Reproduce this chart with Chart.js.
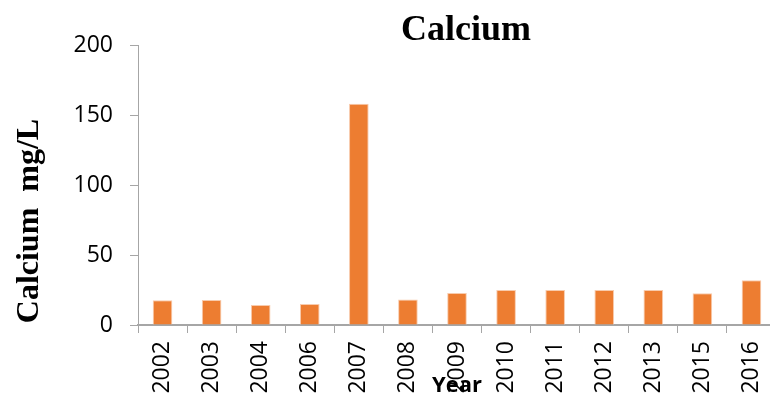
<!DOCTYPE html>
<html>
<head>
<meta charset="utf-8">
<script src="https://cdn.jsdelivr.net/npm/chart.js@4/dist/chart.umd.min.js"></script>
<style>
  html, body { margin: 0; padding: 0; background: #fff; overflow: hidden; }
  /* the original axis runs a few pixels past the right edge of the picture */
  #wrap { width: 776px; height: 400px; }
</style>
</head>
<body>
<div id="wrap"><canvas id="myChart"></canvas></div>
<script>
const years = ['2002', '2003', '2004', '2006', '2007', '2008', '2009', '2010', '2011', '2012', '2013', '2015', '2016'];
const calcium = [17.6, 17.9, 14.3, 15, 158, 18.3, 22.9, 25, 25, 25, 25, 22.6, 32];
const yTicks = [0, 50, 100, 150, 200];

const chartTitle = 'Calcium';
const yTitle = 'Calcium  mg/L';
const xTitle = 'Year';

// titles sit where the original put them, not where Chart.js would
const titlesPlugin = {
	id: 'titles',
	afterDraw(chart) {
		const ctx = chart.ctx;
		ctx.save();
		ctx.fillStyle = '#000';
		ctx.textBaseline = 'alphabetic';
		ctx.textAlign = 'center';
		ctx.font = "bold 36px 'Liberation Serif', 'Times New Roman', serif";
		ctx.fillText(chartTitle, 466, 40);

		ctx.font = "bold 22px 'Open Sans', sans-serif";
		ctx.fillText(xTitle, 457, 392);

		ctx.translate(38, 221);
		ctx.rotate(-Math.PI / 2);
		ctx.font = "bold 32px 'Liberation Serif', 'Times New Roman', serif";
		ctx.fillText(yTitle, 0, 0);
		ctx.restore();
	}
};

const axisColor = '#A6A6A6';

new Chart(document.getElementById('myChart').getContext('2d'), {
	type: 'bar',
	data: {
		labels: years,
		datasets: [{
			label: chartTitle,
			data: calcium,
			backgroundColor: '#ED7D31',
			borderColor: '#F8CBAD',
			borderWidth: 1,
			barPercentage: 0.8,
			categoryPercentage: 0.5
		}]
	},
	options: {
		responsive: true,
		maintainAspectRatio: false,
		animation: false,
		layout: { padding: { top: 45, right: 0, left: 0, bottom: 0 } },
		plugins: {
			legend: { display: false },
			title: { display: false },
			tooltip: { enabled: false }
		},
		scales: {
			x: {
				grid: {
					display: true,
					drawOnChartArea: false,
					offset: true,
					color: axisColor,
					tickLength: 8
				},
				border: { color: axisColor, width: 2 },
				ticks: {
					color: '#000',
					minRotation: 90,
					maxRotation: 90,
					padding: 8,
					font: { family: "'Open Sans', sans-serif", size: 23 }
				},
				afterFit: s => {
					s.height = 75;
					s.paddingLeft = 0;
					s.paddingRight = 0;
				}
			},
			y: {
				min: 0,
				max: 200,
				afterBuildTicks: s => { s.ticks = yTicks.map(v => ({ value: v })); },
				grid: {
					display: true,
					drawOnChartArea: false,
					color: axisColor,
					tickLength: 8
				},
				border: { color: axisColor, width: 1 },
				ticks: {
					color: '#000',
					padding: 17,
					font: { family: "'Open Sans', sans-serif", size: 23 }
				},
				afterFit: s => {
					s.width = 138;
					s.paddingTop = 0;
					s.paddingBottom = 0;
				}
			}
		}
	},
	plugins: [titlesPlugin]
});
</script>
</body>
</html>
